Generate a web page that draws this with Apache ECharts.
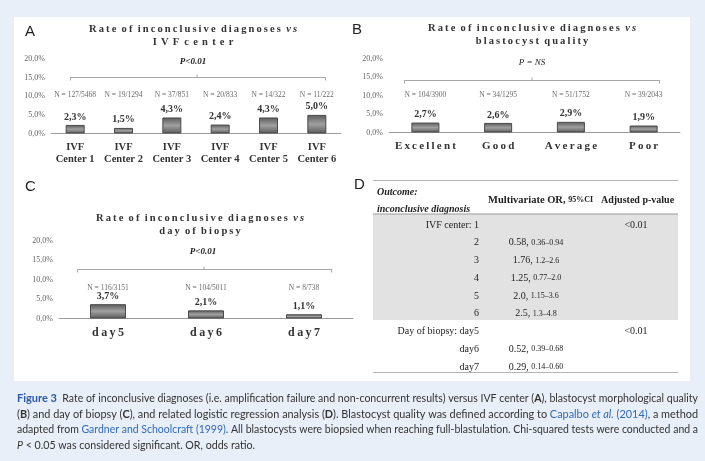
<!DOCTYPE html>
<html><head><meta charset="utf-8">
<script src="https://cdn.jsdelivr.net/npm/echarts@6/dist/echarts.min.js"></script>
<style>html,body{margin:0;padding:0;background:#e8eff8}#c{width:705px;height:461px}</style>
</head><body><div id="c"></div>
<script>
// ---------- data ----------
const catsA = ['IVF Center 1','IVF Center 2','IVF Center 3','IVF Center 4','IVF Center 5','IVF Center 6'];
const valuesA = [2.3, 1.5, 4.3, 2.4, 4.3, 5.0];
const nA = ['N = 127/5468','N = 19/1294','N = 37/851','N = 20/833','N = 14/322','N = 11/222'];

const catsB = ['Excellent','Good','Average','Poor'];
const valuesB = [2.7, 2.6, 2.9, 1.9];
const nB = ['N = 104/3900','N = 34/1295','N = 51/1752','N = 39/2043'];

const catsC = ['day5','day6','day7'];
const valuesC = [3.7, 2.1, 1.1];
const nC = ['N = 116/3151','N = 104/5011','N = 8/738'];

const yTicks = [0, 5, 10, 15, 20];

const tableLabels = ['IVF center: 1','2','3','4','5','6','Day of biopsy: day5','day6','day7'];
const tableOR = ['','0.58','1.76','1.25','2.0','2.5','','0.52','0.29'];
const tableCI = ['','0.36\u20130.94','1.2\u20132.6','0.77\u20132.0','1.15\u20133.6','1.3\u20134.8','','0.39\u20130.68','0.14\u20130.60'];
const tableP = ['<0.01','','','','','','<0.01','',''];

// ---------- helpers ----------
const SERIF = 'Liberation Serif';
const CAP = 'Lato';
const spaced = (s, sp, wsp) => s.split(' ').map(w => w.split('').join(sp)).join(wsp || ' ');
const pct = v => v.toFixed(1).replace('.', ',') + '%';

function T(x, y, text, st, extra) {
  const style = Object.assign({text: text, fill: '#333', fontFamily: SERIF, fontSize: 10,
    align: 'left', textAlign: 'left', verticalAlign: 'middle', textVerticalAlign: 'middle'}, st || {});
  if (st && st.align) style.textAlign = st.align;
  return Object.assign({type: 'text', x: x, y: y, silent: true, z: 10, style: style}, extra || {});
}
function L(x1, y1, x2, y2, color, w) {
  return {type: 'line', silent: true, z: 5, shape: {x1, y1, x2, y2}, style: {stroke: color || '#a8a8a8', lineWidth: w || 1}};
}
function bracket(x1, x2, xm, y) {
  return [L(x1, y, x2, y), L(x1 + 0.5, y, x1 + 0.5, y + 3), L(x2 - 0.5, y, x2 - 0.5, y + 3), L(xm, y, xm, y - 3)];
}
function title(cx, y1, line1, line2, sp2) {
  const S = '\u2009', W = '\u2002';
  return [
    T(cx, y1, '{t|' + spaced(line1, S, W) + W + '}{i|' + spaced('vs', S) + '}', {align: 'center',
      rich: {t: {fontFamily: SERIF, fontWeight: 'bold', fontSize: 10.5, fill: '#333'},
             i: {fontFamily: SERIF, fontWeight: 'bold', fontStyle: 'italic', fontSize: 10.5, fill: '#333'}}}),
    T(cx, y1 + 13.5, spaced(line2, sp2 || S, W), {align: 'center', fontWeight: 'bold', fontSize: 10.5})
  ];
}

const barStyle = {
  color: {type: 'linear', x: 0, y: 0, x2: 0, y2: 1, colorStops: [
    {offset: 0, color: '#5a5a5a'}, {offset: 0.5, color: '#a0a0a0'}, {offset: 1, color: '#5a5a5a'}]},
  borderColor: '#4a4a4a', borderWidth: 1
};

function yAxisDef(gi) {
  return {type: 'value', gridIndex: gi, min: yTicks[0], max: yTicks[yTicks.length - 1], interval: yTicks[1] - yTicks[0],
    splitLine: {show: false}, axisLine: {show: false}, axisTick: {show: false},
    axisLabel: {formatter: pct, fontFamily: SERIF, fontSize: 8, color: '#666', margin: 6}};
}
function xAxisDef(gi, cats, fmt, margin, fs) {
  return {type: 'category', gridIndex: gi, data: cats, axisTick: {show: false},
    axisLine: {lineStyle: {color: '#9a9a9a', width: 1}},
    axisLabel: {formatter: fmt, fontFamily: SERIF, fontWeight: 'bold', fontSize: fs, color: '#333', margin: margin, lineHeight: 12, interval: 0}};
}
function barSeries(gi, vals, w) {
  return {type: 'bar', xAxisIndex: gi, yAxisIndex: gi, data: vals, barWidth: w, itemStyle: barStyle,
    label: {show: true, position: 'top', distance: 3, formatter: p => pct(p.value), fontFamily: SERIF, fontWeight: 'bold', fontSize: 10, color: '#333'}};
}
function nSeries(gi, labels, level) {
  return {type: 'scatter', xAxisIndex: gi, yAxisIndex: gi, symbolSize: 0, silent: true,
    data: labels.map((s, i) => [i, level]),
    label: {show: true, position: 'inside', formatter: p => labels[p.dataIndex], fontFamily: SERIF, fontSize: 7.5, color: '#444'}};
}

// ---------- table ----------
const table = [];
table.push({type: 'rect', silent: true, z: 1, shape: {x: 373, y: 214, width: 305, height: 106}, style: {fill: '#e2e2e2'}});
table.push(L(373, 180.5, 678, 180.5, '#b5b5b5'));
table.push(L(373, 214, 678, 214, '#9a9a9a'));
table.push(L(373, 372.5, 678, 372.5, '#b5b5b5'));
table.push(T(377, 192, 'Outcome:', {fontWeight: 'bold', fontStyle: 'italic', fontSize: 10, fill: '#222'}));
table.push(T(377, 209, 'inconclusive diagnosis', {fontWeight: 'bold', fontStyle: 'italic', fontSize: 10, fill: '#222'}));
table.push(T(488, 200, '{a|Multivariate OR, }{b|95%CI}', {rich: {
  a: {fontFamily: SERIF, fontWeight: 'bold', fontSize: 10.5, fill: '#222'},
  b: {fontFamily: SERIF, fontWeight: 'bold', fontSize: 8, fill: '#222'}}}));
table.push(T(601, 200, 'Adjusted p-value', {fontWeight: 'bold', fontSize: 10, fill: '#222'}));
tableLabels.forEach((lab, i) => {
  const y = 225 + i * 17.75;
  table.push(T(479, y, lab, {align: 'right', fontSize: 10, fill: '#222'}));
  if (tableOR[i]) {
    table.push(T(536, y, '{a|' + tableOR[i] + ', }{b|' + tableCI[i] + '}', {align: 'center', rich: {
      a: {fontFamily: SERIF, fontSize: 10, fill: '#222'}, b: {fontFamily: SERIF, fontSize: 8, fill: '#222'}}}));
  }
  if (tableP[i]) table.push(T(636, y, tableP[i], {align: 'center', fontSize: 10, fill: '#222'}));
});

// ---------- caption ----------
const capDef = [
  [['fig', 'Figure 3'], ['n', '  Rate of inconclusive diagnoses (i.e. amplification failure and non-concurrent results) versus IVF center ('], ['b', 'A'], ['n', '), blastocyst morphological quality']],
  [['n', '('], ['b', 'B'], ['n', ') and day of biopsy ('], ['b', 'C'], ['n', '), and related logistic regression analysis ('], ['b', 'D'], ['n', '). Blastocyst quality was defined according to '], ['lk', 'Capalbo '], ['lki', 'et al.'], ['lk', ' (2014)'], ['n', ', a method']],
  [['n', 'adapted from '], ['lk', 'Gardner and Schoolcraft (1999)'], ['n', '. All blastocysts were biopsied when reaching full-blastulation. Chi-squared tests were conducted and a']],
  [['it', 'P'], ['n', ' < 0.05 was considered significant. OR, odds ratio.']]
];
const CS = 11;
const capRich = {
  n: {fontFamily: CAP, fontSize: CS, fill: '#333'},
  b: {fontFamily: CAP, fontSize: CS, fontWeight: 'bold', fill: '#333'},
  fig: {fontFamily: CAP, fontSize: CS + 0.5, fontWeight: 'bold', fill: '#2a5ba8'},
  lk: {fontFamily: CAP, fontSize: CS, fill: '#2f6bb8'},
  lki: {fontFamily: CAP, fontSize: CS, fontStyle: 'italic', fill: '#2f6bb8'},
  it: {fontFamily: CAP, fontSize: CS, fontStyle: 'italic', fill: '#333'}
};
const ctx = document.createElement('canvas').getContext('2d');
function fontOf(k) {
  const r = capRich[k];
  return (r.fontStyle || 'normal') + ' ' + (r.fontWeight || 'normal') + ' ' + r.fontSize + 'px ' + r.fontFamily;
}
function measure(line) {
  let w = 0;
  line.forEach(([k, s]) => { ctx.font = fontOf(k); w += ctx.measureText(s).width; });
  return w;
}
const capW = 681;
const scales = capDef.slice(0, 3).map(l => capW / measure(l));
scales.push((scales[0] + scales[1] + scales[2]) / 3);
const capYs = [398, 414, 429.5, 445];
const caption = capDef.map((line, i) => ({
  type: 'text', silent: true, z: 10, x: 17, y: capYs[i], scaleX: scales[i],
  style: {text: line.map(([k, s]) => '{' + k + '|' + s + '}').join(''), rich: capRich,
    align: 'left', textAlign: 'left', verticalAlign: 'middle', textVerticalAlign: 'middle'}
}));

// ---------- chart ----------
const chart = echarts.init(document.getElementById('c'), null, {renderer: 'canvas'});
const graphics = [
  {type: 'rect', silent: true, z: 0, shape: {x: 14, y: 17, width: 676, height: 364}, style: {fill: '#ffffff'}},
  T(25, 32, 'A', {fontFamily: 'Liberation Sans', fontSize: 15, fill: '#222'}),
  T(352, 30, 'B', {fontFamily: 'Liberation Sans', fontSize: 15, fill: '#222'}),
  T(25, 187, 'C', {fontFamily: 'Liberation Sans', fontSize: 15, fill: '#222'}),
  T(354, 185, 'D', {fontFamily: 'Liberation Sans', fontSize: 15, fill: '#222'}),
  ...title(193, 29, 'Rate of inconclusive diagnoses', 'IVF center', '\u2009\u2009'),
  ...title(532, 28, 'Rate of inconclusive diagnoses', 'blastocyst quality'),
  ...title(200, 218, 'Rate of inconclusive diagnoses', 'day of biopsy'),
  T(193, 62, 'P<0.01', {align: 'center', fontWeight: 'bold', fontStyle: 'italic', fontSize: 9, fill: '#222'}),
  T(532, 63, 'P = NS', {align: 'center', fontStyle: 'italic', fontSize: 9, fill: '#222'}),
  T(203, 252, 'P<0.01', {align: 'center', fontWeight: 'bold', fontStyle: 'italic', fontSize: 9, fill: '#222'}),
  ...bracket(70, 326, 197, 77.5),
  ...bracket(404, 660, 532, 80.5),
  ...bracket(77, 332, 204, 269.5),
  ...table,
  ...caption
];

chart.setOption({
  backgroundColor: '#e8eff8',
  animation: false,
  grid: [
    {left: 51, top: 59, width: 290, height: 74.5},
    {left: 389, top: 59, width: 291, height: 73.5},
    {left: 59, top: 241, width: 294, height: 77.5}
  ],
  xAxis: [
    xAxisDef(0, catsA, v => v.replace('IVF ', 'IVF\n'), 8, 10.5),
    xAxisDef(1, catsB, v => spaced(v, '\u2009'), 8, 11),
    xAxisDef(2, catsC, v => spaced(v, '\u2009'), 8, 12)
  ],
  yAxis: [yAxisDef(0), yAxisDef(1), yAxisDef(2)],
  series: [
    barSeries(0, valuesA, 19),
    barSeries(1, valuesB, 28),
    barSeries(2, valuesC, 36),
    nSeries(0, nA, 10.3),
    nSeries(1, nB, 10.3),
    nSeries(2, nC, 7.9)
  ],
  graphic: {elements: graphics}
});
</script></body></html>
